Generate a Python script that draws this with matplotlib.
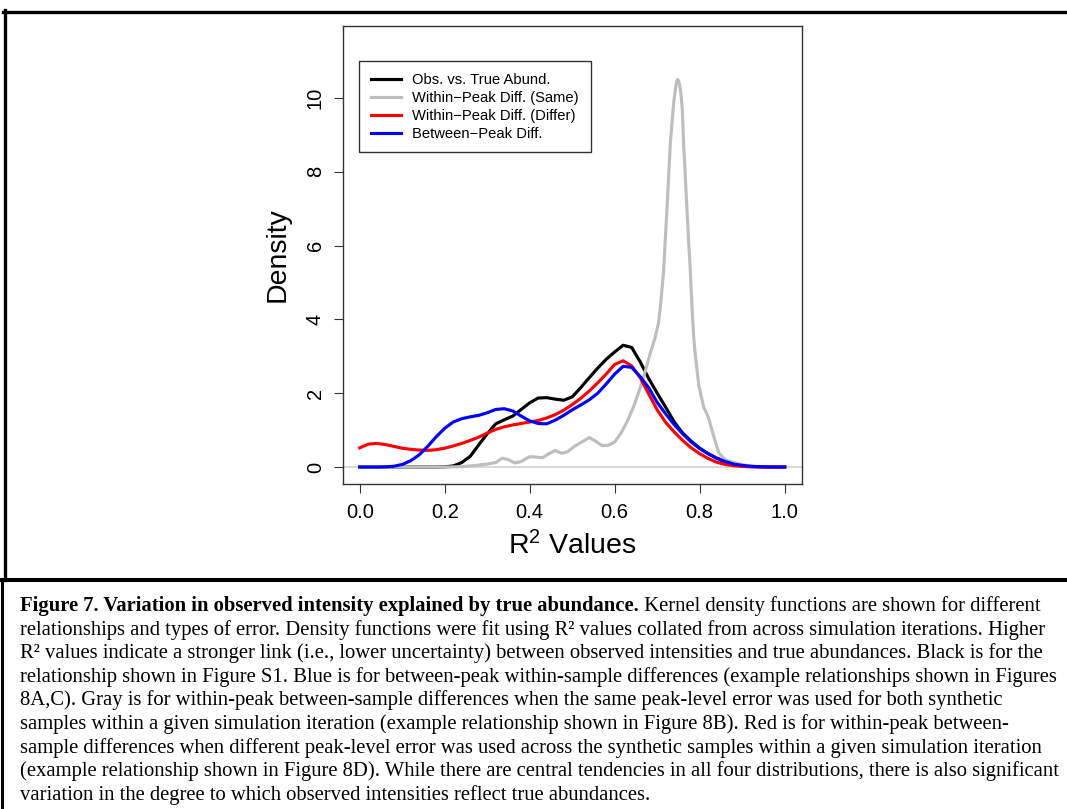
import matplotlib
matplotlib.use('Agg')
import matplotlib.pyplot as plt
from matplotlib.lines import Line2D

plt.rcParams['font.family'] = ['Liberation Sans', 'DejaVu Sans']
plt.rcParams['mathtext.fontset'] = 'custom'
plt.rcParams['mathtext.rm'] = 'Liberation Sans'

W, H = 1067, 809

# --- data -----------------------------------------------------------------
r2_grid = [0.00, 0.02, 0.04, 0.06, 0.08, 0.10, 0.12, 0.14, 0.16, 0.18,
           0.20, 0.22, 0.24, 0.26, 0.28, 0.30, 0.32, 0.34, 0.36, 0.38,
           0.40, 0.42, 0.44, 0.46, 0.48, 0.50, 0.52, 0.54, 0.56, 0.58,
           0.60, 0.62, 0.64, 0.66, 0.68, 0.70, 0.72, 0.74, 0.76, 0.78,
           0.80, 0.82, 0.84, 0.86, 0.88, 0.90, 0.92, 0.94, 0.96, 0.98, 1.00]

obs_true = [0, 0, 0, 0, 0, 0, 0, 0, 0, 0,
            0.005, 0.03, 0.12, 0.29, 0.60, 0.90, 1.17, 1.28, 1.38, 1.56,
            1.74, 1.87, 1.88, 1.84, 1.81, 1.90, 2.15, 2.42, 2.68, 2.92,
            3.12, 3.30, 3.24, 2.85, 2.40, 2.00, 1.62, 1.22, 0.92, 0.70,
            0.51, 0.36, 0.24, 0.14, 0.07, 0.03, 0.015, 0.005, 0, 0, 0]

within_differ = [0.52, 0.62, 0.64, 0.61, 0.56, 0.51, 0.48, 0.46, 0.45, 0.47,
                 0.51, 0.57, 0.64, 0.72, 0.81, 0.92, 1.02, 1.09, 1.14, 1.18,
                 1.22, 1.26, 1.33, 1.42, 1.54, 1.69, 1.86, 2.06, 2.28, 2.52,
                 2.78, 2.88, 2.74, 2.42, 1.98, 1.55, 1.21, 0.95, 0.72, 0.52,
                 0.36, 0.23, 0.13, 0.07, 0.035, 0.015, 0.005, 0.002, 0, 0, 0]

between_peak = [0, 0, 0, 0.005, 0.02, 0.07, 0.17, 0.33, 0.56, 0.82,
                1.05, 1.22, 1.31, 1.36, 1.40, 1.47, 1.56, 1.58, 1.52, 1.38,
                1.25, 1.18, 1.17, 1.27, 1.40, 1.55, 1.68, 1.82, 2.00, 2.25,
                2.52, 2.73, 2.70, 2.45, 2.15, 1.75, 1.44, 1.15, 0.90, 0.68,
                0.50, 0.36, 0.24, 0.15, 0.08, 0.045, 0.02, 0.01, 0.004, 0.001, 0]

same_x = [0.00, 0.10, 0.20, 0.24, 0.27, 0.30, 0.32, 0.335, 0.35, 0.365,
          0.38, 0.40, 0.415, 0.43, 0.445, 0.46, 0.475, 0.49, 0.505, 0.52,
          0.54, 0.555, 0.57, 0.585, 0.60, 0.615, 0.63, 0.645, 0.66, 0.672,
          0.684, 0.695, 0.703, 0.708, 0.715, 0.723, 0.731, 0.739, 0.743, 0.746,
          0.748, 0.750, 0.753, 0.756, 0.759, 0.762, 0.766, 0.770, 0.774, 0.778,
          0.782, 0.786, 0.79, 0.798, 0.809, 0.821, 0.833, 0.845, 0.86, 0.875,
          0.89, 0.91, 0.93, 0.95, 1.00]
within_same = [0, 0, 0, 0.01, 0.04, 0.08, 0.12, 0.24, 0.20, 0.11,
               0.15, 0.28, 0.27, 0.25, 0.36, 0.45, 0.37, 0.42, 0.56, 0.66,
               0.80, 0.70, 0.58, 0.59, 0.68, 0.92, 1.25, 1.65, 2.15, 2.60,
               3.10, 3.50, 3.90, 4.40, 5.30, 7.00, 8.80, 9.90, 10.25, 10.45,
               10.50, 10.47, 10.35, 10.10, 9.70, 8.80, 7.90, 7.00, 6.10, 5.30,
               4.30, 3.50, 3.00, 2.20, 1.64, 1.33, 0.83, 0.38, 0.20, 0.14,
               0.09, 0.04, 0.015, 0.003, 0]

series_labels = ['Obs. vs. True Abund.', 'Within\u2212Peak Diff. (Same)',
                 'Within\u2212Peak Diff. (Differ)', 'Between\u2212Peak Diff.']
x_ticks = [0.0, 0.2, 0.4, 0.6, 0.8, 1.0]
x_ticklabels = ['0.0', '0.2', '0.4', '0.6', '0.8', '1.0']
y_ticks = [0, 2, 4, 6, 8, 10]

caption_bold = 'Figure 7. Variation in observed intensity explained by true abundance.'
caption_lines = [
    ' Kernel density functions are shown for different',
    'relationships and types of error. Density functions were fit using R\u00b2 values collated from across simulation iterations. Higher',
    'R\u00b2 values indicate a stronger link (i.e., lower uncertainty) between observed intensities and true abundances. Black is for the',
    'relationship shown in Figure S1. Blue is for between-peak within-sample differences (example relationships shown in Figures',
    '8A,C). Gray is for within-peak between-sample differences when the same peak-level error was used for both synthetic',
    'samples within a given simulation iteration (example relationship shown in Figure 8B). Red is for within-peak between-',
    'sample differences when different peak-level error was used across the synthetic samples within a given simulation iteration',
    '(example relationship shown in Figure 8D). While there are central tendencies in all four distributions, there is also significant',
    'variation in the degree to which observed intensities reflect true abundances.',
]

# --- figure -----------------------------------------------------------------
fig = plt.figure(figsize=(W / 100, H / 100), dpi=100)
ax = fig.add_axes([342.7 / W, 1 - 484 / H, (801.7 - 342.7) / W, (484 - 25.7) / H])

ax.axhline(0, color='#D3D3D3', lw=1.2, zorder=1)
lw = 2.25
ax.plot(r2_grid, obs_true, color='black', lw=lw, label=series_labels[0], zorder=2)
ax.plot(same_x, within_same, color='#BEBEBE', lw=lw, label=series_labels[1], zorder=2)
ax.plot(r2_grid, within_differ, color='#FF0000', lw=lw, label=series_labels[2], zorder=2)
ax.plot(r2_grid, between_peak, color='#0000FF', lw=lw, label=series_labels[3], zorder=2)

ax.set_xlim(-0.04, 1.04)
ax.set_ylim(-0.46, 11.96)
ax.set_xticks(x_ticks)
ax.set_xticklabels(x_ticklabels)
ax.set_yticks(y_ticks)
ax.tick_params(direction='out', length=6.5, width=0.8, color='#333333',
               labelsize=14.5)
ax.tick_params(axis='x', pad=7.5)
ax.tick_params(axis='y', pad=6.3, labelrotation=90)
for lab in ax.get_yticklabels():
    lab.set_va('center')
for sp in ax.spines.values():
    sp.set_color('#333333')
    sp.set_linewidth(1.0)

ax.set_xlabel(r'$\mathregular{R^2}$ Values', fontsize=20.5, labelpad=6)
ax.set_ylabel('Density', fontsize=20.5, labelpad=11)

leg = ax.legend(loc='upper left', bbox_to_anchor=(0.0362, 0.923), borderaxespad=0,
                fontsize=10.6, handlelength=2.0, handletextpad=0.8,
                labelspacing=0.27, borderpad=0.8, fancybox=False,
                edgecolor='#333333', framealpha=1)
leg.get_frame().set_linewidth(1.0)

# --- outer frame and caption -----------------------------------------------
def fx(x):
    return x / W

def fy(y):
    return 1 - y / H

fig.add_artist(Line2D([fx(3), fx(W)], [fy(11.7), fy(11.7)], color='black', lw=2.4))
fig.add_artist(Line2D([fx(4.7), fx(4.7)], [fy(10), fy(579.5)], color='black', lw=2.4))
fig.add_artist(Line2D([fx(0), fx(W)], [fy(579.5), fy(579.5)], color='black', lw=2.9))
fig.add_artist(Line2D([fx(1.5), fx(1.5)], [fy(579.5), fy(H)], color='black', lw=2.2))

cap_size = 14.85
x0 = fx(20)
base0 = 611
step = 23.6
cap_font = ['Liberation Serif', 'DejaVu Serif']
bold = fig.text(x0, fy(base0), caption_bold, fontsize=cap_size, family=cap_font,
                fontweight='bold', va='baseline', ha='left')
ax.annotate(caption_lines[0], xy=(1, 0), xycoords=bold, fontsize=cap_size,
            family=cap_font, va='bottom', ha='left', annotation_clip=False)
for i, line in enumerate(caption_lines[1:], start=1):
    fig.text(x0, fy(base0 + i * step), line, fontsize=cap_size, family=cap_font,
             va='baseline', ha='left')

fig.savefig('out.png', dpi=100)
